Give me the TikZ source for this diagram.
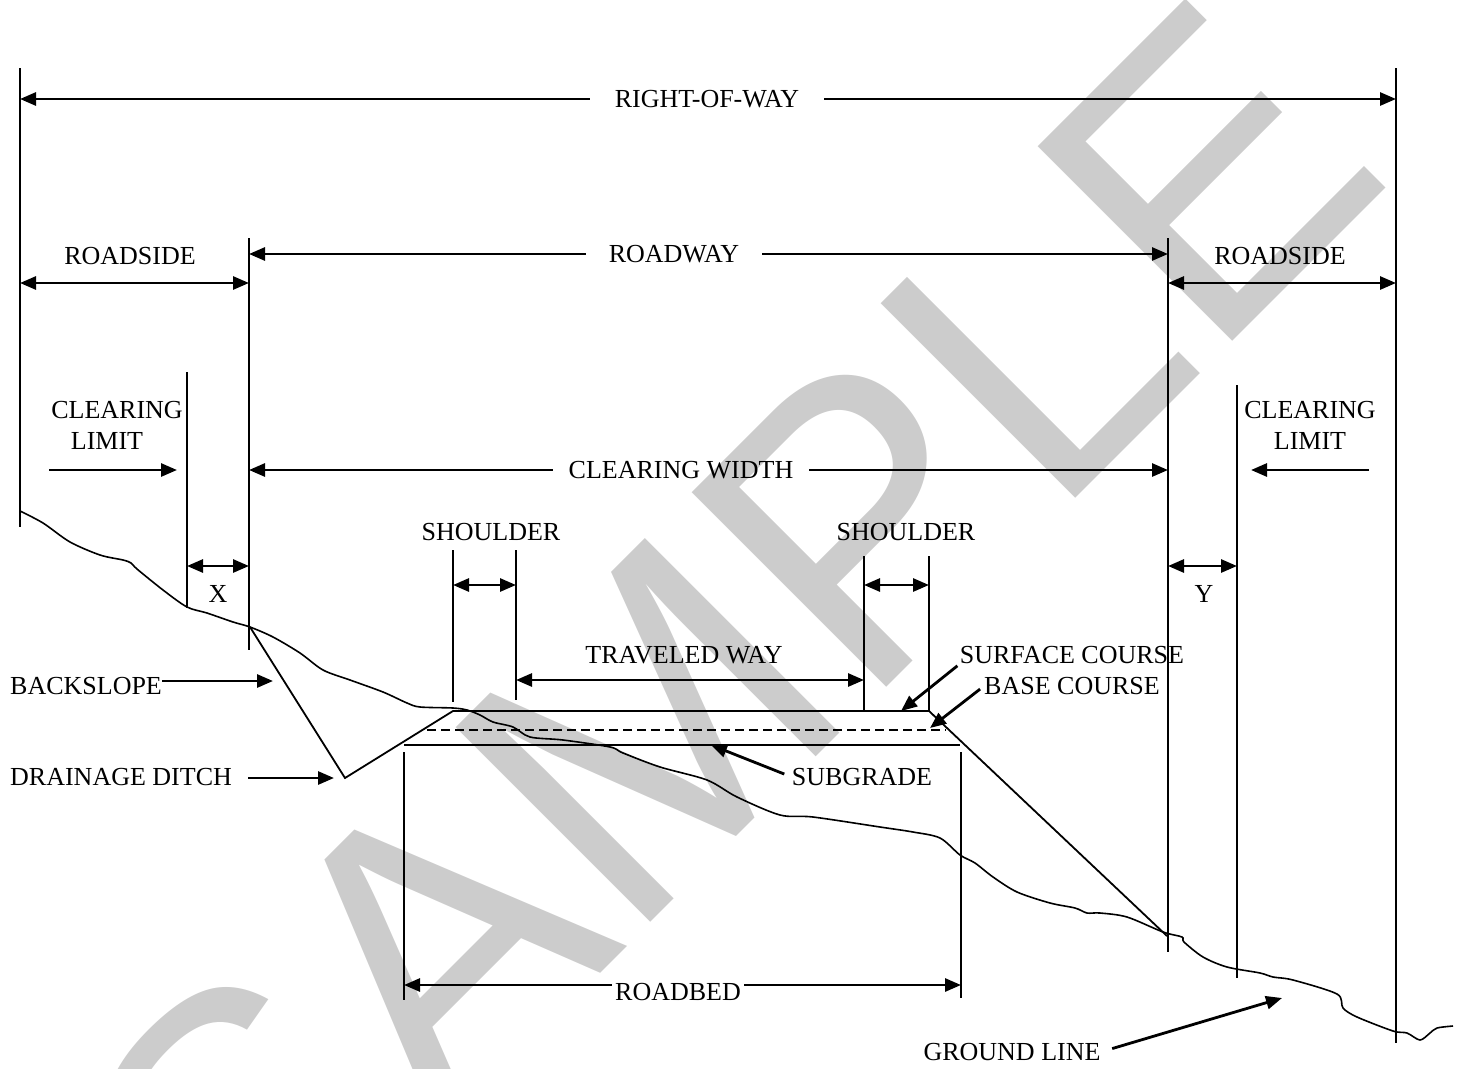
\documentclass[tikz,border=0pt]{standalone}
\usepackage{fontspec}
\setmainfont{Liberation Serif}
\setsansfont{Liberation Sans}
\usetikzlibrary{arrows.meta}

\begin{document}
\begin{tikzpicture}[
  x=1pt, y=-1pt,
  mylabel/.style={font=\fontsize{26}{31}\selectfont, inner sep=0pt, align=center},
  myarrow/.style={-{Triangle[length=16pt,width=13pt]}, line width=2.8pt},
  mydim/.style={{Triangle[length=16pt,width=13pt]}-{Triangle[length=16pt,width=13pt]}, line width=2.8pt},
  extline/.style={line width=1.8pt},
  roadline/.style={line width=1.8pt, line join=miter},
  groundline/.style={line width=1.6pt, line join=round},
  wmark/.style={font=\sffamily\fontsize{400}{400}\selectfont, text=black!20, rotate=45}
  ]
  \useasboundingbox (0,0) rectangle (1463,1068);

  % watermark
  \node[wmark] (wm) at (727,652) {SAMPLE};

  % extension lines
  \coordinate (vA) at (20,68);
  \coordinate (vB) at (1396,68);
  \coordinate (vC) at (249,238);
  \coordinate (vD) at (1168,238);
  \coordinate (vE) at (187,372);
  \coordinate (vF) at (1237,385);
  \coordinate (sA) at (453,550);
  \coordinate (sB) at (516,550);
  \coordinate (sC) at (864,556);
  \coordinate (sD) at (929,556);
  \coordinate (bA) at (404,752);
  \coordinate (bB) at (961,752);
  \draw[extline] (vA) -- ++(0,459)  (vB) -- ++(0,975)
                 (vC) -- ++(0,412)  (vD) -- ++(0,714)
                 (vE) -- ++(0,236)  (vF) -- ++(0,593)
                 (sA) -- ++(0,152)  (sB) -- ++(0,150)
                 (sC) -- ++(0,156)  (sD) -- ++(0,156)
                 (bA) -- ++(0,248)  (bB) -- ++(0,246);

  % dimension levels
  \coordinate (ySide) at (0,283);
  \coordinate (yClr)  at (0,470);
  \coordinate (yXY)   at (0,566);
  \coordinate (ySh)   at (0,585);
  \coordinate (yTw)   at (0,680);
  \coordinate (yBed)  at (0,985);

  % right-of-way
  \node[mylabel, inner xsep=25pt] (row) at (707,99) {RIGHT-OF-WAY};
  \draw[myarrow] (row.west) -- (vA |- row.west);
  \draw[myarrow] (row.east) -- (vB |- row.east);

  % roadway and roadsides
  \node[mylabel, inner xsep=23pt] (rdwy) at (674,254) {ROADWAY};
  \draw[myarrow] (rdwy.west) -- (vC |- rdwy.west);
  \draw[myarrow] (rdwy.east) -- (vD |- rdwy.east);
  \node[mylabel] (rsL) at (130,256) {ROADSIDE};
  \node[mylabel] (rsR) at (1280,256) {ROADSIDE};
  \draw[mydim] (vA |- ySide) -- (vC |- ySide);
  \draw[mydim] (vD |- ySide) -- (vB |- ySide);

  % clearing
  \node[mylabel] (clrL) at (117,425) {CLEARING\\LIMIT\hspace*{20pt}};
  \node[mylabel] (clrR) at (1310,425) {CLEARING\\LIMIT};
  \coordinate (clrLa) at (49,470);
  \coordinate (clrRa) at (1369,470);
  \draw[myarrow] (clrLa) -- ([xshift=-10pt]vE |- yClr);
  \draw[myarrow] (clrRa) -- ([xshift=14pt]vF |- yClr);
  \node[mylabel, inner xsep=16pt] (clw) at (681,470) {CLEARING WIDTH};
  \draw[myarrow] (clw.west) -- (vC |- clw.west);
  \draw[myarrow] (clw.east) -- (vD |- clw.east);

  % X and Y
  \draw[mydim] (vE |- yXY) -- (vC |- yXY);
  \draw[mydim] (vD |- yXY) -- (vF |- yXY);
  \node[mylabel] (xl) at (218,594) {X};
  \node[mylabel] (yl) at (1204,594) {Y};

  % shoulders and traveled way
  \node[mylabel] (shL) at (491,532) {SHOULDER};
  \node[mylabel] (shR) at (906,532) {SHOULDER};
  \draw[mydim] (sA |- ySh) -- (sB |- ySh);
  \draw[mydim] (sC |- ySh) -- (sD |- ySh);
  \node[mylabel] (tw) at (684,655) {TRAVELED WAY};
  \draw[mydim] (sB |- yTw) -- (sC |- yTw);

  % roadbed
  \node[mylabel, inner xsep=3pt] (rb) at (678,992) {ROADBED};
  \draw[myarrow] (rb.west |- yBed) -- (bA |- yBed);
  \draw[myarrow] (rb.east |- yBed) -- (bB |- yBed);

  % ground line
  \draw[groundline] plot[smooth, tension=0.5] coordinates {
    (20,511) (43,523) (70,542) (100,555) (123,560) (131,563) (137,569)
    (163,590) (187,607) (207,613) (233,622) (250,627) (273,637) (300,653)
    (323,670) (350,680) (383,692) (407,703) (420,707) (453,708) (467,710)
    (480,715) (493,722) (513,727) (530,737) (563,740) (610,747) (623,753)
    (660,767) (707,780) (737,797) (780,815) (813,817) (880,827) (913,832)
    (940,838) (960,855) (975,863) (993,877) (1017,892) (1050,903) (1075,908)
    (1087,913) (1100,913) (1127,917) (1163,932) (1182,937) (1184,942)
    (1203,957) (1227,967) (1260,973) (1273,977) (1293,980) (1337,994)
    (1343,1008) (1357,1017) (1393,1031) (1407,1033) (1420,1040) (1430,1033)
    (1437,1028) (1453,1026)};

  % road section
  \coordinate (cut) at (250,627);
  \coordinate (ditch) at (345,778);
  \coordinate (edgeL) at (453,711);
  \coordinate (edgeR) at (929,711);
  \coordinate (toe) at (1167,936);
  \draw[roadline] (cut) -- (ditch) -- (edgeL) -- (edgeR) -- (toe);
  \coordinate (baseL) at (427,730);
  \coordinate (baseR) at (946,730);
  \draw[roadline, dash pattern=on 9pt off 5pt] (baseL) -- (baseR);
  \coordinate (subL) at (404,745);
  \coordinate (subR) at (960,745);
  \draw[roadline] (subL) -- (subR);

  % pointer labels
  \node[mylabel, anchor=west] (bks) at (10,686) {BACKSLOPE};
  \coordinate (bksT) at (273,681);
  \draw[myarrow] (bks.east |- bksT) -- (bksT);
  \node[mylabel, anchor=west] (ddt) at (10,777) {DRAINAGE DITCH};
  \coordinate (ddtT) at (334,778);
  \draw[myarrow, shorten <=16pt] (ddt.east |- ddtT) -- (ddtT);
  \node[mylabel] (sub) at (862,777) {SUBGRADE};
  \coordinate (subT) at (711,745);
  \draw[myarrow, shorten <=8pt] (sub.west) -- (subT);
  \node[mylabel] (sfc) at (1072,655) {SURFACE COURSE};
  \coordinate (sfcT) at (901,711);
  \draw[myarrow, shorten <=3pt] (sfc.south west) -- (sfcT);
  \node[mylabel] (bsc) at (1072,686) {BASE COURSE};
  \coordinate (bscT) at (930,728);
  \draw[myarrow, shorten <=5pt] (bsc.west) -- (bscT);
  \node[mylabel] (gnd) at (1012,1052) {GROUND LINE};
  \coordinate (gndT) at (1282,998);
  \draw[myarrow, shorten <=12pt] (gnd.east) -- (gndT);
\end{tikzpicture}
\end{document}
